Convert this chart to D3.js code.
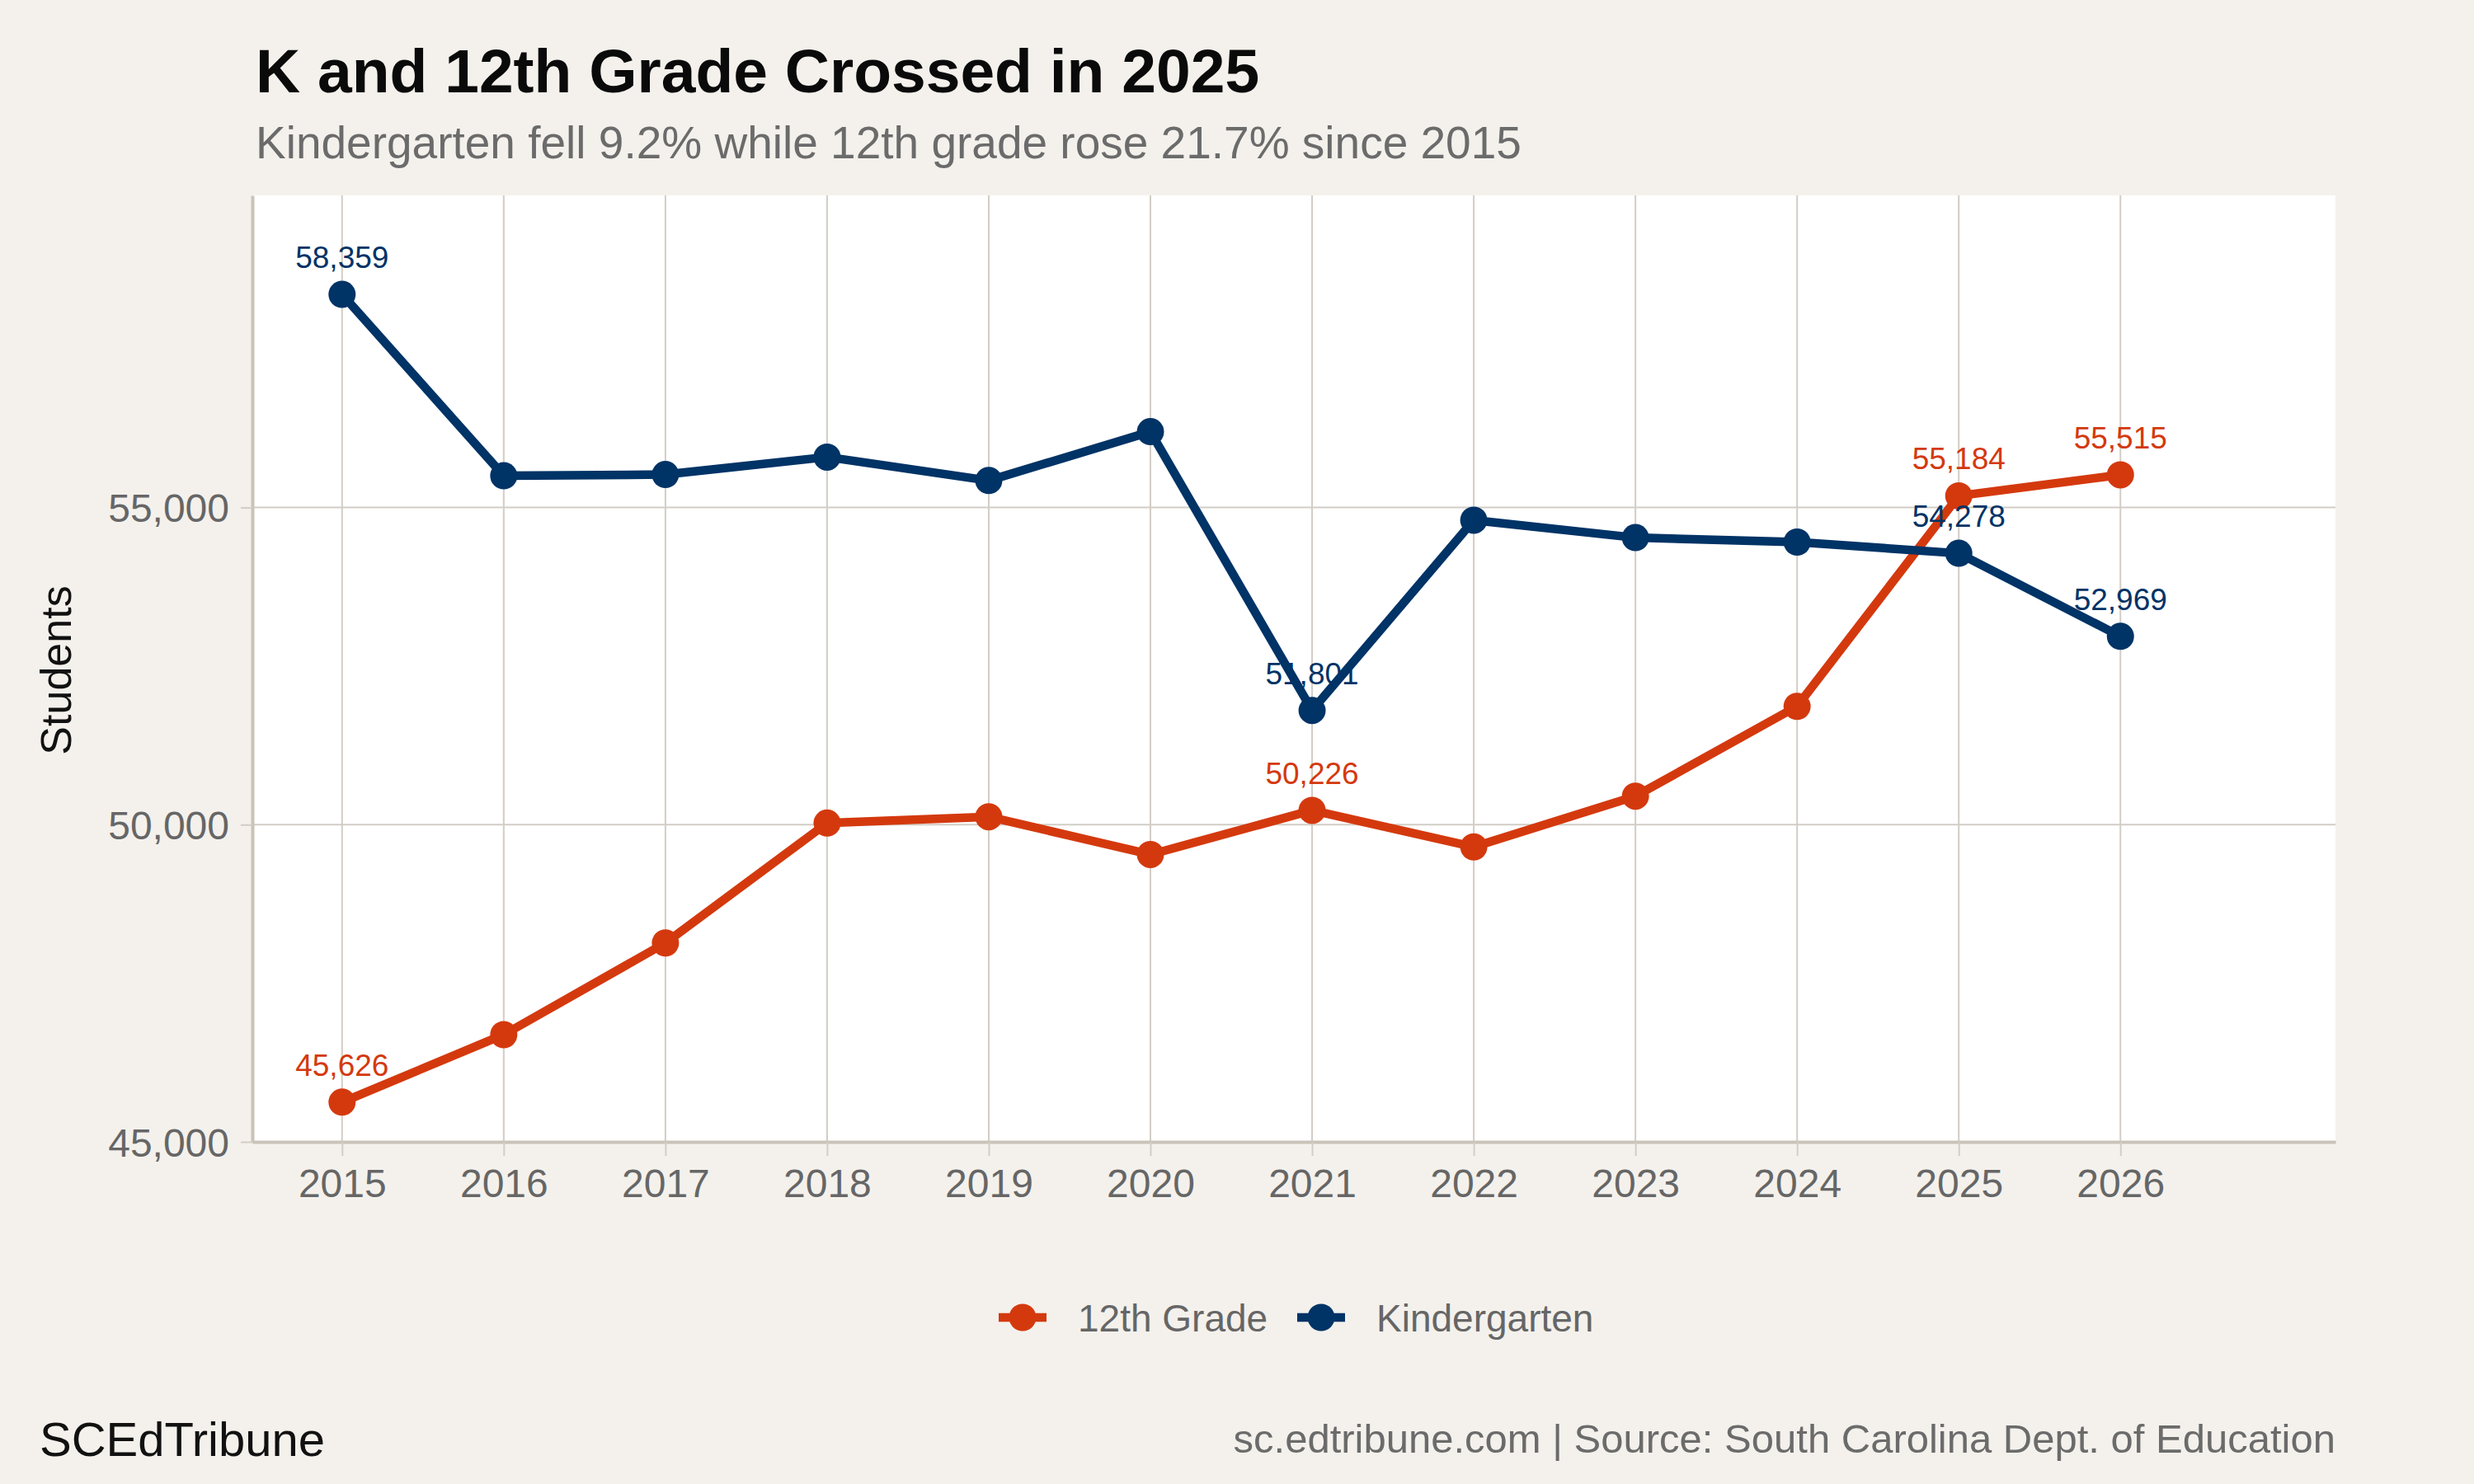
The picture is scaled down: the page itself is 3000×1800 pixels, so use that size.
<!DOCTYPE html>
<html>
<head>
<meta charset="utf-8">
<script src="https://cdn.jsdelivr.net/npm/d3@7"></script>
<style>
  body { margin: 0; background: #F4F1EC; }
  svg { display: block; font-family: "Liberation Sans", Arial, Helvetica, sans-serif; }
</style>
</head>
<body>
<svg id="chart" width="3000" height="1800"></svg>
<script>
// enrollment by year
const years = [2015, 2016, 2017, 2018, 2019, 2020, 2021, 2022, 2023, 2024, 2025, 2026];
const grade12 = [45626, 46690, 48135, 50025, 50125, 49530, 50226, 49650, 50450, 51865, 55184, 55515];
const kinder = [58359, 55500, 55520, 55795, 55425, 56195, 51801, 54800, 54525, 54455, 54278, 52969];
const labelYears = [2015, 2021, 2025, 2026];
const yTicks = [45000, 50000, 55000];

const seriesNames = ["12th Grade", "Kindergarten"];
const seriesColors = ["#D4390E", "#003366"];

const W = 3000, H = 1800;
const margin = {left: 306, right: 168, top: 237, bottom: 415};

const svg = d3.select("#chart");
const fmt = d3.format(",");

let x = d3.scaleLinear().domain([2014.445, 2027.33]).range([margin.left, W - margin.right]);
let y = d3.scaleLinear().domain([45000, 59920]).range([H - margin.bottom, margin.top]);

let series = [
    {name: seriesNames[0], color: seriesColors[0], values: grade12},
    {name: seriesNames[1], color: seriesColors[1], values: kinder}
];

// panel
svg.append("rect")
    .attr("x", x.range()[0]).attr("y", y.range()[1])
    .attr("width", x.range()[1] - x.range()[0])
    .attr("height", y.range()[0] - y.range()[1])
    .attr("fill", "#ffffff");

// grid
let grid = svg.append("g").attr("class", "grid");
grid.selectAll("line.v").data(years).enter().append("line")
    .attr("x1", d => x(d)).attr("x2", d => x(d))
    .attr("y1", y.range()[1]).attr("y2", y.range()[0])
    .attr("stroke", "#D2CDC5").attr("stroke-width", 2);
grid.selectAll("line.h").data(yTicks).enter().append("line")
    .attr("x1", x.range()[0]).attr("x2", x.range()[1])
    .attr("y1", d => y(d)).attr("y2", d => y(d))
    .attr("stroke", "#D2CDC5").attr("stroke-width", 2);

// axes
let xAxis = svg.append("g")
    .attr("transform", "translate(0," + y.range()[0] + ")")
    .call(d3.axisBottom(x).tickValues(years).tickFormat(d3.format("d"))
        .tickSizeInner(17).tickSizeOuter(0).tickPadding(16));
let yAxis = svg.append("g")
    .attr("transform", "translate(" + x.range()[0] + ",0)")
    .call(d3.axisLeft(y).tickValues(yTicks).tickFormat(fmt)
        .tickSizeInner(14).tickSizeOuter(0).tickPadding(14));

[xAxis, yAxis].forEach(function(a) {
    a.select(".domain").attr("stroke", "#C9C3B9").attr("stroke-width", 4);
    a.selectAll(".tick line").attr("stroke", "#D2CDC5").attr("stroke-width", 2);
    a.selectAll(".tick text")
        .attr("fill", "#666666")
        .style("font-size", "48px")
        .style("font-family", "Liberation Sans, Arial, sans-serif");
});
yAxis.selectAll(".tick text").attr("dy", "0.36em");

// y axis title
svg.append("text")
    .attr("transform", "translate(86,813) rotate(-90)")
    .attr("text-anchor", "middle")
    .style("font-size", "52px")
    .attr("fill", "#111111")
    .text("Students");

// lines
let line = d3.line()
    .x((d, i) => x(years[i]))
    .y(d => y(d));

svg.append("g").selectAll("path")
    .data(series).enter().append("path")
    .attr("d", d => line(d.values))
    .attr("fill", "none")
    .attr("stroke", d => d.color)
    .attr("stroke-width", 10.5)
    .attr("stroke-linejoin", "round");

// points
series.forEach(function(s) {
    svg.append("g").selectAll("circle")
        .data(s.values).enter().append("circle")
        .attr("cx", (d, i) => x(years[i]))
        .attr("cy", d => y(d))
        .attr("r", 16.5)
        .attr("fill", s.color);
});

// value labels
series.forEach(function(s) {
    let pts = years.map((yr, i) => ({yr: yr, v: s.values[i]}))
        .filter(p => labelYears.indexOf(p.yr) >= 0);
    svg.append("g").selectAll("text")
        .data(pts).enter().append("text")
        .attr("x", d => x(d.yr))
        .attr("y", d => y(d.v) - 32)
        .attr("text-anchor", "middle")
        .style("font-size", "37px")
        .attr("fill", s.color)
        .text(d => fmt(d.v));
});

// titles
svg.append("text")
    .attr("x", 310).attr("y", 112)
    .style("font-size", "75px").style("font-weight", "bold")
    .attr("fill", "#0a0a0a")
    .text("K and 12th Grade Crossed in 2025");
svg.append("text")
    .attr("x", 310).attr("y", 192)
    .style("font-size", "55px")
    .attr("fill", "#6b6b6b")
    .text("Kindergarten fell 9.2% while 12th grade rose 21.7% since 2015");

// legend
let legendX = [1211, 1573];
let legend = svg.append("g").attr("transform", "translate(0,1598)");
series.forEach(function(s, i) {
    let g = legend.append("g").attr("transform", "translate(" + legendX[i] + ",0)");
    g.append("line").attr("x1", 0).attr("x2", 58).attr("y1", 0).attr("y2", 0)
        .attr("stroke", s.color).attr("stroke-width", 10.5);
    g.append("circle").attr("cx", 29).attr("cy", 0).attr("r", 16.5).attr("fill", s.color);
    g.append("text").attr("x", 96).attr("y", 0).attr("dy", "0.36em")
        .style("font-size", "46px").attr("fill", "#666666")
        .text(s.name);
});

// footer
svg.append("text")
    .attr("x", 48).attr("y", 1766)
    .style("font-size", "58px").attr("fill", "#111111")
    .text("SCEdTribune");
svg.append("text")
    .attr("x", 2832).attr("y", 1762)
    .attr("text-anchor", "end")
    .style("font-size", "49px").attr("fill", "#6b6b6b")
    .text("sc.edtribune.com | Source: South Carolina Dept. of Education");
</script>
</body>
</html>
